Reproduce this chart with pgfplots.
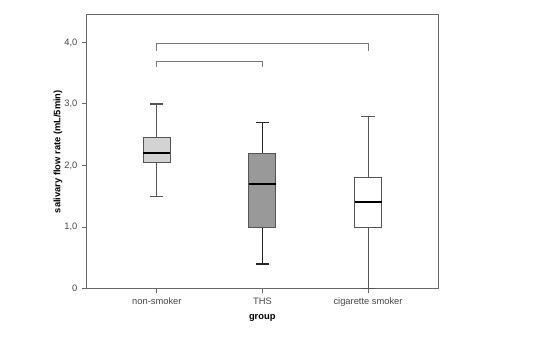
\documentclass[border=0pt]{standalone}
\usepackage{pgfplots}
\pgfplotsset{compat=1.18}
\usepgfplotslibrary{statistics}
\usepackage{fontspec}
\setmainfont{Liberation Sans}
\definecolor{framegray}{RGB}{105,105,105}
\definecolor{ticktext}{RGB}{70,70,70}
\definecolor{boxline}{RGB}{85,85,85}
\definecolor{lightfill}{RGB}{211,211,211}
\definecolor{darkfill}{RGB}{153,153,153}
\definecolor{brack}{RGB}{120,120,120}
\begin{document}
\begin{tikzpicture}
\path[use as bounding box] (0,0) rectangle (403.5pt,252pt);
\begin{axis}[
  at={(65pt,35.5pt)}, anchor=south west,
  scale only axis, width=263.7pt, height=205.5pt,
  xmin=0.335, xmax=3.665, ymin=0, ymax=4.45,
  xtick={1,2,3}, xticklabels={non-smoker,THS,cigarette smoker},
  ytick={0,1,2,3,4}, yticklabels={0,{1,0},{2,0},{3,0},{4,0}},
  xtick pos=bottom, ytick pos=left,
  tick align=outside, major tick length=3.5pt,
  tick style={draw=framegray, line width=0.7pt},
  axis line style={draw=framegray, line width=1pt},
  ticklabel style={font=\fontsize{7}{8.4}\selectfont, text=ticktext},
  xticklabel style={yshift=0pt},
  xlabel={group}, ylabel={salivary flow rate (mL/5min)},
  label style={font=\fontsize{7}{8.4}\selectfont\bfseries, text=black},
  xlabel style={at={(axis description cs:0.4994,-0.107)}, anchor=center},
  ylabel style={at={(axis description cs:-0.0816,0.5)}, anchor=center},
  boxplot/draw direction=y,
  boxplot/every median/.style={draw=black, line width=1.5pt},
  clip=false,
]
% non-smoker
\addplot[solid, draw=boxline, line width=0.75pt, fill=lightfill,
  boxplot prepared={median=2.2, upper quartile=2.45, lower quartile=2.05,
    upper whisker=3.0, lower whisker=1.5, draw position=1,
    box extend=0.256, whisker extend=0.125},
  boxplot/every whisker/.style={draw=boxline, line width=0.9pt}
] coordinates {};
% THS
\addplot[solid, draw=boxline, line width=0.75pt, fill=darkfill,
  boxplot prepared={median=1.7, upper quartile=2.2, lower quartile=1.0,
    upper whisker=2.7, lower whisker=0.4, draw position=2,
    box extend=0.256, whisker extend=0.125},
  boxplot/every whisker/.style={draw=black!85, line width=0.9pt}
] coordinates {};
% cigarette smoker
\addplot[solid, draw=boxline, line width=0.75pt, fill=white,
  boxplot prepared={median=1.4, upper quartile=1.8, lower quartile=1.0,
    upper whisker=2.8, lower whisker=0.0, draw position=3,
    box extend=0.256, whisker extend=0.125},
  boxplot/every whisker/.style={draw=boxline, line width=0.6pt}
] coordinates {};
% significance brackets
\addplot[solid, no markers, draw=brack, line width=0.75pt] coordinates {(1,3.86) (1,3.985) (3,3.985) (3,3.86)};
\addplot[solid, no markers, draw=brack, line width=0.75pt] coordinates {(1,3.60) (1,3.69) (2,3.69) (2,3.60)};
\end{axis}
\end{tikzpicture}
\end{document}
